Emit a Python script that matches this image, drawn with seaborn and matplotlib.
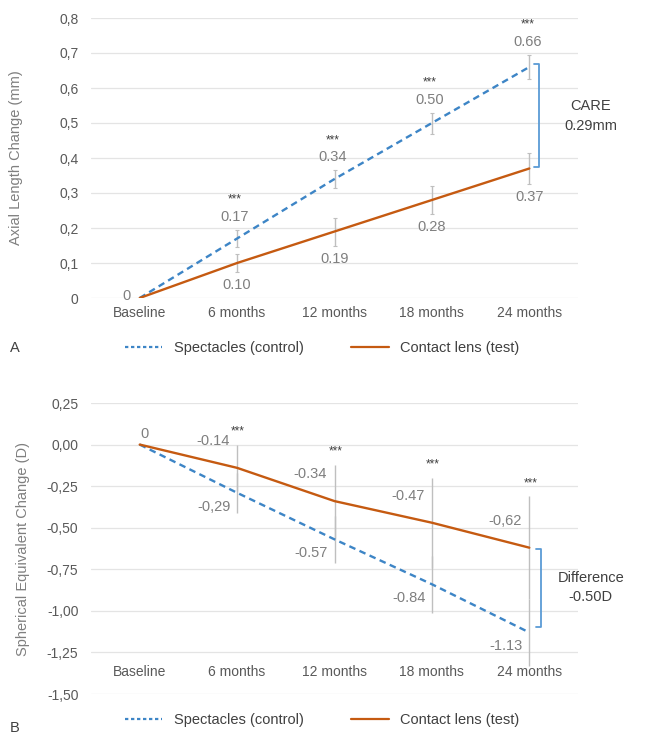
import numpy as np
import pandas as pd
import matplotlib
matplotlib.use("Agg")
import matplotlib.pyplot as plt
import seaborn as sns
from matplotlib.lines import Line2D
from matplotlib.ticker import FuncFormatter

# ---------------- data ----------------
timepoints = ["Baseline", "6 months", "12 months", "18 months", "24 months"]
groups = ["Spectacles (control)", "Contact lens (test)"]

# panel A : axial length change (mm)
al_spec = [0, 0.17, 0.34, 0.50, 0.66]
al_cl = [0, 0.10, 0.19, 0.28, 0.37]
al_spec_err = [0, 0.025, 0.025, 0.03, 0.035]
al_cl_err = [0, 0.025, 0.04, 0.04, 0.045]
al_spec_lbl = ["0.17", "0.34", "0.50", "0.66"]
al_cl_lbl = ["0.10", "0.19", "0.28", "0.37"]

# panel B : spherical equivalent change (D)
se_spec = [0, -0.29, -0.57, -0.84, -1.13]
se_cl = [0, -0.14, -0.34, -0.47, -0.62]
se_spec_err = [0, 0.12, 0.14, 0.17, 0.2]
se_cl_err = [0, 0.14, 0.22, 0.27, 0.31]
se_spec_lbl = ["-0,29", "-0.57", "-0.84", "-1.13"]
se_cl_lbl = ["-0.14", "-0.34", "-0.47", "-0,62"]

BLUE = "#3d85c6"
ORANGE = "#c55a11"
GREY = "#bfbfbf"
TXT = "#595959"
LBL = "#7f7f7f"

sns.set_theme(style="white")
plt.rcParams["font.family"] = ["Liberation Sans", "DejaVu Sans"]

fig = plt.figure(figsize=(6.46, 7.36), dpi=100)
W, H = 646, 736
axA = fig.add_axes([91 / W, 1 - 298 / H, 487 / W, 280 / H])
axB = fig.add_axes([91 / W, 1 - 694 / H, 487 / W, 291 / H])

x = np.arange(len(timepoints))


def draw_lines(ax, spec, cl, spec_err, cl_err, caps):
    df = pd.DataFrame({
        "pos": np.concatenate([x, x]),
        "value": spec + cl,
        "group": [groups[0]] * len(x) + [groups[1]] * len(x),
    })
    for i in range(1, len(x)):
        ax.errorbar(x[i], spec[i], yerr=spec_err[i], color=GREY, lw=1,
                    capsize=caps, capthick=0.8, zorder=1)
        ax.errorbar(x[i], cl[i], yerr=cl_err[i], color=GREY, lw=1,
                    capsize=caps, capthick=0.8, zorder=1)
    sns.lineplot(data=df, x="pos", y="value", hue="group", style="group",
                 palette={groups[0]: BLUE, groups[1]: ORANGE},
                 dashes={groups[0]: (2.8, 1.9), groups[1]: ""},
                 linewidth=1.7, legend=False, ax=ax, zorder=3)


def style_axis(ax):
    ax.set_xlim(-0.5, 4.5)
    ax.set_xticks(x)
    ax.set_xticklabels(timepoints)
    ax.set_xlabel("")
    for s in ax.spines.values():
        s.set_visible(False)
    ax.grid(axis="y", color="#e4e4e4", lw=0.9)
    ax.grid(axis="x", visible=False)
    ax.tick_params(axis="both", length=0, labelsize=10, colors=TXT)
    ax.tick_params(axis="y", pad=9)
    ax.tick_params(axis="x", pad=6)


# ---------------- panel A ----------------
draw_lines(axA, al_spec, al_cl, al_spec_err, al_cl_err, caps=1.5)
style_axis(axA)
axA.set_ylim(0, 0.8)
axA.set_yticks(np.arange(0, 0.81, 0.1))
axA.yaxis.set_major_formatter(FuncFormatter(
    lambda v, p: "0" if abs(v) < 1e-9 else f"{v:.1f}".replace(".", ",")))
axA.set_ylabel("Axial Length Change (mm)", fontsize=10.5, color=LBL)
axA.yaxis.set_label_coords(-0.14, 0.5)

axA.annotate("0", (0, 0), xytext=(-13, 2), textcoords="offset pixels",
             ha="center", va="center", fontsize=10.5, color=LBL)
for i in range(1, len(x)):
    top = al_spec[i] + al_spec_err[i]
    axA.annotate(al_spec_lbl[i - 1], (x[i], top), xytext=(-2, 13),
                 textcoords="offset pixels", ha="center", va="center",
                 fontsize=10.5, color=LBL)
    axA.annotate("***", (x[i], top), xytext=(-2, 30),
                 textcoords="offset pixels", ha="center", va="center",
                 fontsize=8.5, color="#404040")
    bot = al_cl[i] - al_cl_err[i]
    axA.annotate(al_cl_lbl[i - 1], (x[i], bot), xytext=(0, -13),
                 textcoords="offset pixels", ha="center", va="center",
                 fontsize=10.5, color=LBL)

# bracket
bx = 4.1
axA.plot([bx - 0.05, bx, bx, bx - 0.05], [0.668, 0.668, 0.374, 0.374],
         color="#5b9bd5", lw=1.3, clip_on=False)
axA.text(4.63, 0.52, "CARE\n0.29mm", ha="center", va="center",
         fontsize=10.5, color="#404040", linespacing=1.5, clip_on=False)

# ---------------- panel B ----------------
draw_lines(axB, se_spec, se_cl, se_spec_err, se_cl_err, caps=0)
style_axis(axB)
axB.set_ylim(-1.5, 0.25)
axB.set_yticks(np.arange(-1.5, 0.26, 0.25))
axB.yaxis.set_major_formatter(FuncFormatter(
    lambda v, p: "0,00" if abs(v) < 1e-9 else f"{v:.2f}".replace(".", ",")))
axB.spines["bottom"].set_position(("data", -1.25))
axB.tick_params(axis="x", pad=9)
axB.set_ylabel("Spherical Equivalent Change (D)", fontsize=10.5, color=LBL)
axB.yaxis.set_label_coords(-0.125, 0.5)

axB.annotate("0", (0, 0), xytext=(5, 11), textcoords="offset pixels",
             ha="center", va="center", fontsize=10.5, color=LBL)
for i in range(1, len(x)):
    axB.annotate(se_cl_lbl[i - 1], (x[i], se_cl[i]), xytext=(-24, 27),
                 textcoords="offset pixels", ha="center", va="center",
                 fontsize=10.5, color=LBL)
    axB.annotate(se_spec_lbl[i - 1], (x[i], se_spec[i]), xytext=(-23, -14),
                 textcoords="offset pixels", ha="center", va="center",
                 fontsize=10.5, color=LBL)
    top = max(se_cl[i] + se_cl_err[i], se_spec[i] + se_spec_err[i])
    axB.annotate("***", (x[i], top), xytext=(1, 13),
                 textcoords="offset pixels", ha="center", va="center",
                 fontsize=8.5, color="#404040")

bx = 4.12
axB.plot([bx - 0.05, bx, bx, bx - 0.05], [-0.625, -0.625, -1.1, -1.1],
         color="#5b9bd5", lw=1.3, clip_on=False)
axB.text(4.63, -0.86, "Difference\n-0.50D", ha="center", va="center",
         fontsize=10.5, color="#404040", linespacing=1.5, clip_on=False)

# ---------------- legends ----------------
handles = [
    Line2D([], [], color=BLUE, lw=1.6, dashes=(1.5, 1.2)),
    Line2D([], [], color=ORANGE, lw=1.6),
]
for ypix in (348, 720):
    fig.legend(handles, groups, loc="center",
               bbox_to_anchor=(322 / W, 1 - ypix / H), ncol=2, frameon=False,
               fontsize=10.5, handlelength=2.6, columnspacing=3.2,
               labelcolor="#404040")
fig.text(10 / W, 1 - 348 / H, "A", fontsize=10.5, color="#404040", va="center")
fig.text(10 / W, 1 - 728 / H, "B", fontsize=10.5, color="#404040", va="center")

fig.savefig("out.png", dpi=100)
